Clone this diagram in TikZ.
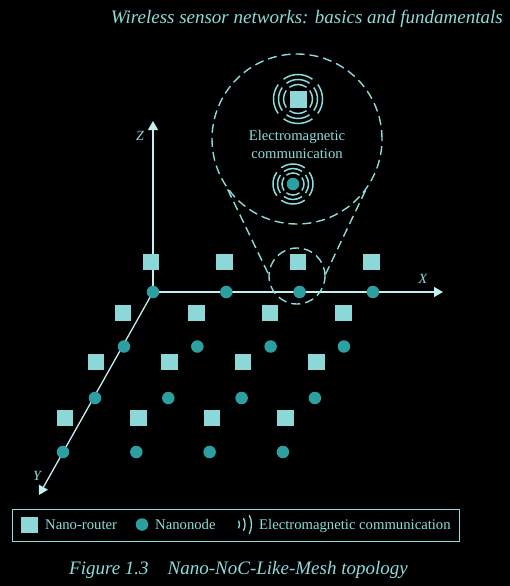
\documentclass[tikz,border=0pt]{standalone}
\usepackage{fontspec}
\setmainfont{Liberation Serif}
\usetikzlibrary{arrows.meta}
\definecolor{mint}{RGB}{140,220,220}
\definecolor{routerfill}{RGB}{140,216,216}
\definecolor{nodefill}{RGB}{44,160,160}
\definecolor{axisline}{RGB}{195,240,240}

\begin{document}
\begin{tikzpicture}[x=1pt, y=-1pt, >={Triangle[length=9pt,width=10pt]},
  axis/.style={draw=axisline, line width=1.3pt},
  router/.style={rectangle, fill=routerfill, minimum size=16.5pt, inner sep=0pt},
  nanonode/.style={circle, fill=nodefill, minimum size=12.5pt, inner sep=0pt},
  wave/.style={draw=mint, line width=1.5pt},
  lens/.style={circle, draw=mint, line width=1.4pt, dash pattern=on 9pt off 5pt, inner sep=0pt},
  lensline/.style={draw=mint, line width=1.4pt, dash pattern=on 9pt off 5pt},
  label/.style={text=mint, inner sep=0pt, font=\fontsize{14.7}{18}\selectfont},
  axislabel/.style={text=mint, font=\fontsize{14}{16}\selectfont\itshape},
  heading/.style={text=mint, inner sep=0pt, font=\fontsize{19}{22}\selectfont\itshape}]
\fill[black] (0,0) rectangle (510,586);
\useasboundingbox (0,0) rectangle (510,586);

\node[heading, anchor=base east] (title) at (503,24) {Wireless sensor networks: basics and fundamentals};

% axes
\coordinate (O) at (153,292);
\coordinate (Zend) at (153,121);
\coordinate (Xend) at (443,292);
\coordinate (Yend) at (39,495);
\draw[axis,->] (O) -- (Zend);
\draw[axis,->] (O) -- (Xend);
\draw[axis,->] (O) -- (Yend);
\node[axislabel] (zlabel) at (140,136) {Z};
\node[axislabel] (xlabel) at (423,279) {X};
\node[axislabel] (ylabel) at (37,476) {Y};

% mesh
\foreach \x/\y [count=\r] in {151/262,123/313,96/362,65/418}
  \foreach \c in {0,...,3}
    \node[router] (router-\r-\c) at ({\x+73.5*\c},\y) {};
\foreach \x/\y [count=\r] in {153/292,124/346.5,95/398,63/452}
  \foreach \c in {0,...,3}
    \node[nanonode] (node-\r-\c) at ({\x+73.3*\c},\y) {};

% zoomed view
\node[lens, minimum size=56pt] (small) at (297,276) {};
\node[lens, minimum size=170pt] (big) at (297,139) {};
\draw[lensline] (big.216) -- (small.176);
\draw[lensline] (big.323) -- (small.4);

\node[router, minimum size=17pt] (brouter) at (298,99) {};
\node[nanonode] (bnode) at (293,184) {};
\foreach \a in {0,90,180,270} {
  \foreach \rr in {14.5,19.5,24.5}
    \draw[wave] (brouter.center) ++(\a-36:\rr) arc[start angle=\a-36, end angle=\a+36, radius=\rr];
  \foreach \rr in {11,15.5,20}
    \draw[wave] (bnode.center) ++(\a-36:\rr) arc[start angle=\a-36, end angle=\a+36, radius=\rr];
}
\node[label, align=center] (emtext) at (297,144) {Electromagnetic\\communication};

% legend
\draw[draw=mint, line width=1pt] (12.7,509.3) rectangle (459,541.3);
\node[router] (key-router) at (29.5,525) {};
\node[label, anchor=base west] (key-router-text) at (45,529) {Nano-router};
\node[nanonode] (key-node) at (142,524.5) {};
\node[label, anchor=base west] (key-node-text) at (155,529) {Nanonode};
\coordinate (key-wave) at (231,524.5);
\foreach \rr in {8.5,14,20.5}
  \draw[wave, line width=1.3pt] (key-wave) ++(-27:\rr) arc[start angle=-27, end angle=27, radius=\rr];
\node[label, anchor=base west] (key-wave-text) at (259,529) {Electromagnetic communication};

\node[heading, anchor=base west] (caption) at (69,574) {Figure 1.3\quad Nano-NoC-Like-Mesh topology};
\end{tikzpicture}
\end{document}
